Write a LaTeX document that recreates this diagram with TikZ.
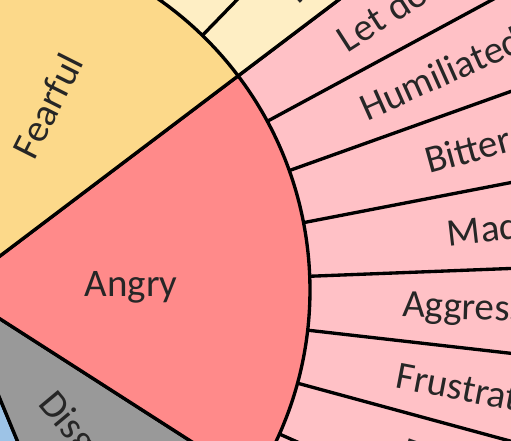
\documentclass[tikz,border=0pt]{standalone}
\usepackage{fontspec}
\setmainfont{Carlito}
\definecolor{fearyellow}{RGB}{252,217,138}
\definecolor{fearlight}{RGB}{254,238,196}
\definecolor{angryred}{RGB}{255,138,138}
\definecolor{angrypink}{RGB}{255,193,198}
\definecolor{disgustgray}{RGB}{153,153,153}
\definecolor{sadblue}{RGB}{157,195,230}

\tikzset{
  wedge/.style={draw=black, line width=1.9pt, line join=round},
  feel/.style={font=\fontsize{22.2}{26}\selectfont, text=black!85, inner sep=0pt},
}

\begin{document}
\begin{tikzpicture}
    \useasboundingbox (0.9,-3.0) rectangle (11.12,5.8);
    \clip (0.9,-3.0) rectangle (11.12,5.8);

    % second ring
    \filldraw[wedge, fill=angrypink] (-32.66:7.1) -- (-32.66:14) arc[start angle=-32.66, end angle=37.1, radius=14] -- (37.1:7.1) -- cycle;
    \filldraw[wedge, fill=fearlight] (37.1:7.1) -- (37.1:14) arc[start angle=37.1, end angle=89.42, radius=14] -- (89.42:7.1) -- cycle;
    \foreach \a in {28.38,19.66,10.94,2.22,-6.5,-15.22,-23.94,45.82,54.54}
        \draw[wedge] (\a:7.1) -- (\a:14);

    % core emotions
    \filldraw[wedge, fill=sadblue] (0,0) -- (-67.54:7.1) arc[start angle=-67.54, end angle=-110, radius=7.1] -- cycle;
    \filldraw[wedge, fill=disgustgray] (0,0) -- (-32.66:7.1) arc[start angle=-32.66, end angle=-67.54, radius=7.1] -- cycle;
    \filldraw[wedge, fill=angryred] (0,0) -- (37.1:7.1) arc[start angle=37.1, end angle=-32.66, radius=7.1] -- cycle;
    \filldraw[wedge, fill=fearyellow] (0,0) -- (89.42:7.1) arc[start angle=89.42, end angle=37.1, radius=7.1] -- cycle;

    \node[feel, rotate=63.3] (fearful) at (63.3:4.12) {Fearful};
    \node[feel] (angry) at (3.52,0.05) {Angry};
    \node[feel, rotate=-50.1] (disgusted) at (-50.1:4.36) {Disgusted};

    \node[feel, rotate=41.46] (threatened) at (41.46:10.64) {Threatened};
    \node[feel, rotate=32.74] (letdown) at (32.74:10.64) {Let down};
    \node[feel, rotate=24.02] (humiliated) at (24.02:10.64) {Humiliated};
    \node[feel, rotate=15.3] (bitter) at (15.3:10.64) {Bitter};
    \node[feel, rotate=6.58] (mad) at (6.58:10.64) {Mad};
    \node[feel, rotate=-2.14] (aggressive) at (-2.14:10.64) {Aggressive};
    \node[feel, rotate=-10.86] (frustrated) at (-10.86:10.64) {Frustrated};
    \node[feel, rotate=-19.58] (distant) at (-19.58:10.64) {Distant};
\end{tikzpicture}
\end{document}
